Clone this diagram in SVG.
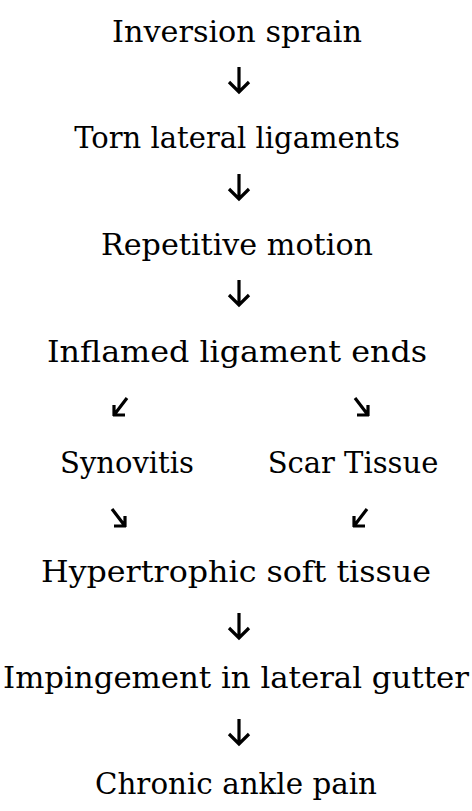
<svg xmlns="http://www.w3.org/2000/svg" width="472" height="811" viewBox="0 0 472 811">
<style>
text{font-family:"DejaVu Serif","Liberation Serif",serif;font-size:29px;fill:#000;text-anchor:middle}
.a{fill:none;stroke:#000;stroke-width:3.2;stroke-linecap:butt;stroke-linejoin:miter}
</style>
<defs>
<g id="down"><path class="a" d="M0,-13V12M-10,2L0,12L10,2"/></g>
<g id="dl"><path class="a" d="M7,-9L-6,8M-6,-2V9M-7,8H5"/></g>
<g id="dr"><path class="a" d="M-7,-9L6,8M6,-2V9M7,8H-5"/></g>
</defs>
<rect width="472" height="811" fill="#fff"/>
<g id="n1"><text x="237" y="42" textLength="250" lengthAdjust="spacingAndGlyphs">Inversion sprain</text></g>
<g id="n2"><text x="237" y="148">Torn lateral ligaments</text></g>
<g id="n3"><text x="237" y="255" textLength="272" lengthAdjust="spacingAndGlyphs">Repetitive motion</text></g>
<g id="n4"><text x="237" y="362" textLength="380" lengthAdjust="spacingAndGlyphs">Inflamed ligament ends</text></g>
<g id="n5"><text x="127" y="473">Synovitis</text></g>
<g id="n6"><text x="353" y="473">Scar Tissue</text></g>
<g id="n7"><text x="236" y="582" textLength="390" lengthAdjust="spacingAndGlyphs">Hypertrophic soft tissue</text></g>
<g id="n8"><text x="236" y="688" textLength="466" lengthAdjust="spacingAndGlyphs">Impingement in lateral gutter</text></g>
<g id="n9"><text x="236" y="794" textLength="282" lengthAdjust="spacingAndGlyphs">Chronic ankle pain</text></g>
<g id="connectors">
<use href="#down" x="239" y="80"/>
<use href="#down" x="239" y="187"/>
<use href="#down" x="239" y="293"/>
<use href="#dl" x="120" y="407"/>
<use href="#dr" x="362" y="407"/>
<use href="#dr" x="119" y="518"/>
<use href="#dl" x="360" y="518"/>
<use href="#down" x="239" y="626"/>
<use href="#down" x="239" y="732"/>
</g>
</svg>
